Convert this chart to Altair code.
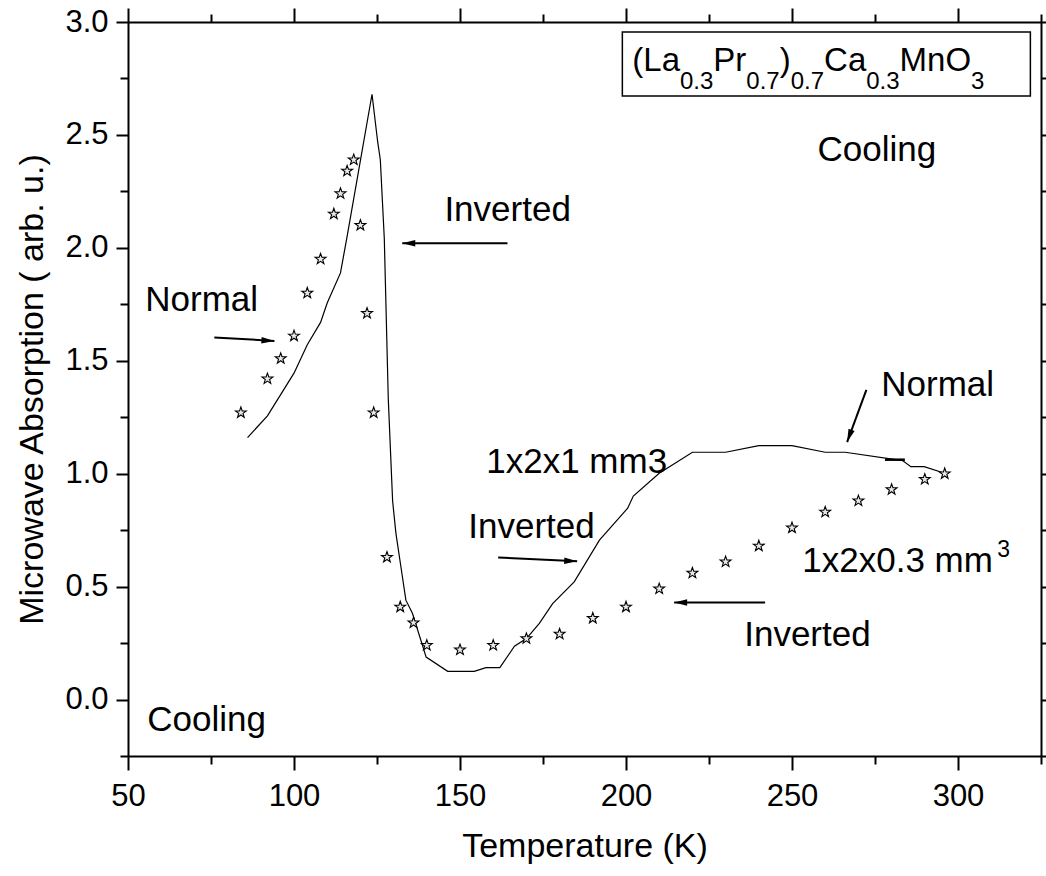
import altair as alt
import pandas as pd

F = "Liberation Sans"

# ---------------- data ----------------
# stars: 1x2x0.3 mm^3 sample
star_T = [84, 92, 96, 100, 104, 108, 112, 114, 116, 118, 120, 122, 124,
          128, 132, 136, 140, 150, 160, 170, 180, 190, 200, 210,
          220, 230, 240, 250, 260, 270, 280, 290, 296]
star_A = [1.27, 1.42, 1.51, 1.61, 1.80, 1.95, 2.15, 2.24, 2.34, 2.39, 2.10, 1.71, 1.27,
          0.63, 0.41, 0.34, 0.24, 0.22, 0.24, 0.27, 0.29, 0.36, 0.41, 0.49,
          0.56, 0.61, 0.68, 0.76, 0.83, 0.88, 0.93, 0.975, 1.00]

# solid line: 1x2x1 mm3 sample
line_T = [86, 92, 100, 104, 108, 110, 114, 116,
          123.5, 125.2, 126, 127.2, 128.4, 129.7, 130.7, 132.2, 133.7, 135.7,
          139.8, 146.3, 154.3, 157.8, 162, 166.4, 170, 173.9, 177.9, 184.4,
          192, 200.5, 202.2, 210, 220, 230, 240, 250, 260, 266,
          283.3, 285.8, 289.8, 296]
line_A = [1.16, 1.256, 1.445, 1.571, 1.670, 1.756, 1.889, 2.051,
          2.68, 2.47, 2.39, 2.04, 1.33, 0.88, 0.736, 0.588, 0.44, 0.381,
          0.188, 0.125, 0.125, 0.141, 0.141, 0.236, 0.27, 0.337, 0.425, 0.521,
          0.706, 0.847, 0.901, 1.002, 1.095, 1.095, 1.124, 1.124, 1.095, 1.095,
          1.058, 1.031, 1.031, 1.002]

dash_T = [278, 284]
dash_A = [1.062, 1.062]

x_major = [50, 100, 150, 200, 250, 300]
x_minor = [75, 125, 175, 225, 275, 325]
y_major = [0.0, 0.5, 1.0, 1.5, 2.0, 2.5, 3.0]
y_minor = [-0.25, 0.25, 0.75, 1.25, 1.75, 2.25, 2.75]

ann_text = ["Cooling", "Inverted", "Normal", "Normal", "1x2x1 mm3",
            "Inverted", "1x2x0.3 mm", "Inverted", "Cooling"]
ann_T = [257.7, 145.3, 55.2, 276.9, 157.9, 152.5, 253.1, 235.6, 55.8]
ann_A = [2.435, 2.169, 1.770, 1.393, 1.052, 0.764, 0.612, 0.284, -0.09]

sup_text = ["3"]
sup_T = [311.8]
sup_A = [0.66]

arrow_T1 = [164.3, 76.0, 272.4, 161.5, 241.9]
arrow_A1 = [2.02, 1.603, 1.371, 0.629, 0.43]
arrow_T2 = [132.6, 94.1, 266.6, 185.3, 214.5]
arrow_A2 = [2.02, 1.588, 1.140, 0.612, 0.43]
arrow_angle = [270, 93, 200, 93, 270]

formula_parts = ["(La", "0.3", "Pr", "0.7", ")", "0.7", "Ca", "0.3", "MnO", "3"]
formula_sub = [False, True, False, True, False, True, False, True, False, True]
formula_T0 = 201.9
formula_A_main = 2.783
formula_A_sub = 2.702
box_T = [198.9, 321.8]
box_A = [2.672, 2.956]

# ---------------- layout helpers ----------------
W, H = 913, 734
XD = [50, 325]
YD = [-0.25, 3.0]
px_per_K = W / (XD[1] - XD[0])
MAIN, SUB = 33, 24
ANN = 35
adv = {'(': 333, 'L': 556, 'a': 556, '0': 556, '.': 278, '3': 556, 'P': 667,
       'r': 333, '7': 556, ')': 333, 'C': 722, 'M': 833, 'n': 556, 'O': 778}

main_rows, sub_rows = [], []
cur = formula_T0
for part, is_sub in zip(formula_parts, formula_sub):
    fs = SUB if is_sub else MAIN
    wpx = sum(adv[c] for c in part) * fs / 1000.0
    if is_sub:
        sub_rows.append({'T': cur, 'A': formula_A_sub, 'label': part})
    else:
        main_rows.append({'T': cur, 'A': formula_A_main, 'label': part})
    cur += wpx / px_per_K

xs = alt.Scale(domain=XD, nice=False, zero=False)
ys = alt.Scale(domain=YD, nice=False, zero=False)

common = dict(tickColor='black', domainColor='black', tickWidth=2, domainWidth=2,
              grid=False, labelColor='black', titleColor='black')

ax_bottom = alt.Axis(orient='bottom', values=x_major, format='d', title='Temperature (K)',
                     tickSize=14, labelFontSize=31, labelFont=F, labelPadding=11,
                     titleFontSize=34, titleFont=F, titleFontWeight='normal', titlePadding=18,
                     labelFlush=False, labelOverlap=False, **common)
ax_left = alt.Axis(orient='left', values=y_major, format='.1f',
                   title='Microwave Absorption ( arb. u.)',
                   tickSize=12, labelFontSize=31, labelFont=F, labelPadding=8,
                   titleFontSize=34, titleFont=F, titleFontWeight='normal', titlePadding=15,
                   labelFlush=False, labelOverlap=False, **common)
ax_bottom_min = alt.Axis(orient='bottom', values=x_minor, tickSize=8, labels=False,
                         domain=False, title=None, **common)
ax_left_min = alt.Axis(orient='left', values=y_minor, tickSize=8, labels=False,
                       domain=False, title=None, **common)
ax_top = alt.Axis(orient='top', values=x_major, tickSize=14, labels=False, title=None, **common)
ax_right = alt.Axis(orient='right', values=y_major, tickSize=12, labels=False, title=None, **common)
ax_top_min = alt.Axis(orient='top', values=x_minor, tickSize=8, labels=False,
                      domain=False, title=None, **common)
ax_right_min = alt.Axis(orient='right', values=y_minor, tickSize=8, labels=False,
                        domain=False, title=None, **common)

line_df = pd.DataFrame({'T': line_T, 'A': line_A, 'i': list(range(len(line_T)))})
star_df = pd.DataFrame({'T': star_T, 'A': star_A})
dash_df = pd.DataFrame({'T': dash_T, 'A': dash_A})
ann_df = pd.DataFrame({'T': ann_T, 'A': ann_A, 'label': ann_text})
sup_df = pd.DataFrame({'T': sup_T, 'A': sup_A, 'label': sup_text})
arr_df = pd.DataFrame({'T1': arrow_T1, 'A1': arrow_A1, 'T2': arrow_T2, 'A2': arrow_A2,
                       'ang': arrow_angle})
box_df = pd.DataFrame({'T1': [box_T[0]], 'T2': [box_T[1]], 'A1': [box_A[0]], 'A2': [box_A[1]]})
fmain_df = pd.DataFrame(main_rows)
fsub_df = pd.DataFrame(sub_rows)


def X(field='T', axis=None):
    return alt.X(f'{field}:Q', scale=xs, axis=axis)


def Y(field='A', axis=None):
    return alt.Y(f'{field}:Q', scale=ys, axis=axis)


STAR = ("M0,-1 L0.235,-0.324 L0.951,-0.309 L0.380,0.124 L0.588,0.809 L0,0.4 "
        "L-0.588,0.809 L-0.380,0.124 L-0.951,-0.309 L-0.235,-0.324 Z")
HEAD = "M0,0 L0.5,2 L-0.5,2 Z"

line_layer = alt.Chart(line_df).mark_line(color='black', strokeWidth=1.2).encode(
    x=X(axis=ax_bottom), y=Y(axis=ax_left), order='i:Q')
minor_layer = alt.Chart(star_df).mark_point(opacity=0).encode(
    x=X(axis=ax_bottom_min), y=Y(axis=ax_left_min))
top_layer = alt.Chart(star_df).mark_point(opacity=0).encode(
    x=X(axis=ax_top), y=Y(axis=ax_right))
top_min_layer = alt.Chart(star_df).mark_point(opacity=0).encode(
    x=X(axis=ax_top_min), y=Y(axis=ax_right_min))

stars = alt.Chart(star_df).mark_point(shape=STAR, size=130, filled=True, fill='#e8e8e8',
                                      stroke='black', strokeWidth=1.1, opacity=1).encode(
    x=X(), y=Y())
dash = alt.Chart(dash_df).mark_line(color='black', strokeWidth=2.5).encode(x=X(), y=Y())

box = alt.Chart(box_df).mark_rect(fill='white', fillOpacity=0, stroke='black',
                                  strokeWidth=1.5).encode(
    x=X('T1'), x2='T2:Q', y=Y('A1'), y2='A2:Q')
fmain = alt.Chart(fmain_df).mark_text(align='left', baseline='alphabetic', fontSize=MAIN,
                                      font=F, color='black').encode(
    x=X(), y=Y(), text='label:N')
fsub = alt.Chart(fsub_df).mark_text(align='left', baseline='alphabetic', fontSize=SUB,
                                    font=F, color='black').encode(
    x=X(), y=Y(), text='label:N')

ann = alt.Chart(ann_df).mark_text(align='left', baseline='middle', fontSize=ANN,
                                  font=F, color='black').encode(
    x=X(), y=Y(), text='label:N')
sup = alt.Chart(sup_df).mark_text(align='left', baseline='middle', fontSize=23,
                                  font=F, color='black').encode(
    x=X(), y=Y(), text='label:N')

shafts = alt.Chart(arr_df).mark_rule(color='black', strokeWidth=2).encode(
    x=X('T1'), x2='T2:Q', y=Y('A1'), y2='A2:Q')
heads = alt.Chart(arr_df).mark_point(shape=HEAD, size=169, filled=True, color='black',
                                     opacity=1, strokeWidth=0).encode(
    x=X('T2'), y=Y('A2'), angle=alt.Angle('ang:Q', scale=None))

chart = alt.layer(
    line_layer, minor_layer, top_layer, top_min_layer,
    stars, dash, box, fmain, fsub, ann, sup, shafts, heads
).resolve_axis(x='independent', y='independent').properties(
    width=W, height=H,
    autosize=alt.AutoSizeParams(type='none'),
    padding={'left': 128, 'top': 22, 'right': 5, 'bottom': 120},
).configure_view(stroke=None).configure(font=F, background='white')

chart.save("out.html", embed_options={"renderer": "svg", "actions": False})
